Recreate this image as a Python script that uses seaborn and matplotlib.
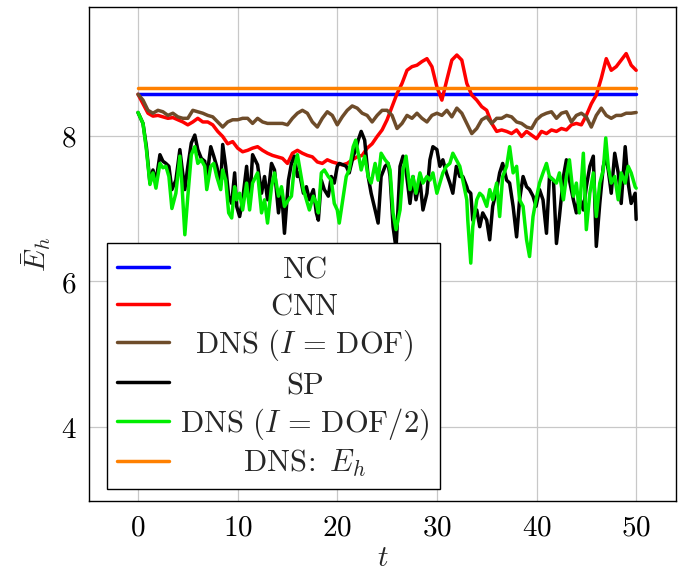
import numpy as np
import matplotlib
matplotlib.use("Agg")
import matplotlib.pyplot as plt
import seaborn as sns
from matplotlib.lines import Line2D

# ---------------- data ----------------
t_grid = np.arange(0, 50.5, 0.5)

e_cnn = [8.57, 8.44, 8.31, 8.27, 8.28, 8.26, 8.24, 8.25, 8.22, 8.19,
         8.15, 8.19, 8.24, 8.19, 8.19, 8.15, 8.06, 7.99, 7.89, 7.92,
         7.83, 7.78, 7.80, 7.83, 7.85, 7.80, 7.76, 7.73, 7.71, 7.69,
         7.62, 7.76, 7.80, 7.76, 7.73, 7.71, 7.64, 7.62, 7.67, 7.64,
         7.62, 7.60, 7.62, 7.67, 7.71, 7.73, 7.83, 7.89, 7.99, 8.08,
         8.22, 8.40, 8.58, 8.72, 8.90, 8.95, 8.97, 9.02, 9.06, 8.95,
         8.67, 8.49, 8.77, 9.04, 9.11, 9.04, 8.72, 8.56, 8.49, 8.40,
         8.35, 8.17, 8.06, 8.08, 8.06, 8.03, 8.08, 7.99, 8.06, 8.01,
         7.96, 8.06, 8.03, 8.08, 8.06, 8.10, 8.08, 8.15, 8.17, 8.15,
         8.28, 8.44, 8.56, 8.79, 9.06, 8.90, 8.95, 9.04, 9.13, 8.97,
         8.90]

e_dns_full = [8.57, 8.49, 8.35, 8.31, 8.35, 8.33, 8.28, 8.31, 8.26, 8.24,
              8.24, 8.35, 8.33, 8.31, 8.28, 8.26, 8.19, 8.12, 8.19, 8.22,
              8.22, 8.24, 8.24, 8.17, 8.24, 8.19, 8.17, 8.17, 8.17, 8.17,
              8.15, 8.24, 8.31, 8.35, 8.31, 8.19, 8.12, 8.24, 8.33, 8.28,
              8.15, 8.26, 8.35, 8.41, 8.38, 8.31, 8.28, 8.19, 8.28, 8.35,
              8.35, 8.28, 8.10, 8.17, 8.28, 8.24, 8.31, 8.24, 8.19, 8.28,
              8.31, 8.28, 8.35, 8.26, 8.38, 8.31, 8.17, 8.03, 8.10, 8.22,
              8.26, 8.17, 8.24, 8.24, 8.28, 8.26, 8.19, 8.17, 8.12, 8.10,
              8.22, 8.28, 8.31, 8.33, 8.24, 8.31, 8.33, 8.19, 8.28, 8.31,
              8.26, 8.12, 8.28, 8.38, 8.28, 8.24, 8.28, 8.28, 8.31, 8.31,
              8.32]

t_noisy = [0.0, 0.5, 0.84, 1.2, 1.5, 1.8, 2.2, 2.5, 2.8, 3.1,
           3.4, 3.8, 4.2, 4.4, 4.7, 5.0, 5.35, 5.7, 6.0, 6.35,
           6.7, 6.9, 7.3, 7.6, 7.9, 8.3, 8.5, 8.8, 9.1, 9.4,
           9.7, 9.9, 10.2, 10.5, 10.9, 11.2, 11.5, 12.0, 12.4, 12.7,
           13.0, 13.4, 13.7, 14.1, 14.4, 14.7, 15.1, 15.4, 15.7, 16.0,
           16.2, 16.6, 16.9, 17.2, 17.6, 17.9, 18.1, 18.4, 18.7, 19.1,
           19.4, 19.7, 20.0, 20.2, 20.6, 20.9, 21.2, 21.6, 21.85, 22.1,
           22.4, 22.75, 23.1, 23.4, 23.8, 24.1, 24.4, 24.8, 25.1, 25.3,
           25.6, 25.9, 26.3, 26.6, 26.9, 27.3, 27.6, 27.9, 28.3, 28.6,
           29.0, 29.3, 29.6, 30.0, 30.3, 30.6, 30.95, 31.3, 31.6, 31.95,
           32.3, 32.6, 33.0, 33.1, 33.4, 33.6, 34.0, 34.3, 34.6, 35.0,
           35.3, 35.6, 36.0, 36.3, 36.6, 37.0, 37.3, 37.65, 38.0, 38.3,
           38.65, 39.0, 39.3, 39.65, 39.95, 40.3, 40.65, 41.0, 41.3, 41.7,
           42.0, 42.3, 42.7, 43.0, 43.3, 43.7, 44.0, 44.3, 44.7, 45.0,
           45.35, 45.7, 46.0, 46.35, 46.7, 46.95, 47.2, 47.5, 47.85, 48.2,
           48.5, 48.9, 49.2, 49.5, 49.9, 50.0]

e_sp = [8.32, 8.17, 7.85, 7.35, 7.53, 7.37, 7.74, 7.65, 7.62, 7.58,
        7.26, 7.39, 7.81, 7.58, 7.26, 7.58, 7.90, 8.01, 7.81, 7.69,
        7.65, 7.42, 7.85, 7.72, 7.58, 7.33, 7.88, 7.58, 7.17, 7.07,
        7.49, 7.03, 6.89, 7.12, 7.58, 7.07, 7.74, 7.60, 7.21, 7.44,
        7.12, 7.62, 7.53, 6.94, 7.26, 6.66, 7.39, 7.62, 7.72, 7.44,
        7.49, 7.21, 7.30, 7.12, 7.26, 6.94, 6.84, 7.39, 7.26, 7.17,
        7.44, 7.35, 7.58, 7.62, 7.60, 7.58, 7.49, 7.72, 7.81, 7.94,
        8.06, 7.94, 7.44, 7.21, 6.98, 6.80, 7.44, 7.58, 7.62, 7.44,
        6.75, 6.45, 7.58, 7.72, 7.53, 7.07, 7.44, 7.12, 7.39, 6.98,
        7.21, 7.67, 7.85, 7.81, 7.58, 7.67, 7.49, 7.35, 7.21, 7.58,
        7.44, 7.44, 7.30, 7.25, 7.21, 6.84, 6.98, 6.75, 6.94, 6.84,
        6.57, 7.03, 7.26, 7.49, 7.62, 7.39, 7.35, 7.03, 6.61, 7.12,
        7.44, 7.30, 7.26, 7.17, 7.03, 7.26, 7.12, 6.66, 7.44, 7.39,
        6.52, 6.89, 7.44, 7.67, 7.39, 7.12, 6.94, 7.17, 6.98, 7.30,
        7.58, 7.72, 6.48, 7.07, 7.58, 7.72, 7.53, 7.21, 7.76, 7.49,
        7.07, 7.85, 7.35, 7.07, 7.21, 6.85]

e_dns_half = [8.32, 8.17, 7.81, 7.33, 7.49, 7.28, 7.62, 7.56, 7.58, 7.44,
              7.00, 7.21, 7.72, 7.35, 6.64, 7.17, 7.74, 7.85, 7.62, 7.67,
              7.58, 7.26, 7.58, 7.62, 7.44, 7.26, 7.53, 7.39, 6.94, 6.87,
              7.30, 7.12, 7.21, 6.98, 7.35, 6.98, 7.35, 7.49, 6.94, 7.12,
              6.80, 7.30, 7.49, 7.17, 7.30, 7.03, 7.12, 7.17, 7.58, 7.74,
              7.58, 7.26, 7.12, 6.98, 7.17, 7.07, 6.94, 7.49, 7.53, 7.44,
              7.39, 7.07, 6.98, 6.80, 7.17, 7.44, 7.53, 7.85, 7.94, 7.76,
              7.53, 7.72, 7.44, 7.35, 7.62, 7.39, 7.76, 7.67, 7.62, 7.53,
              6.94, 6.71, 6.98, 7.53, 7.72, 7.26, 7.44, 7.21, 7.49, 7.35,
              7.44, 7.39, 7.49, 7.21, 7.35, 7.49, 7.58, 7.62, 7.76, 7.67,
              7.58, 7.39, 7.12, 6.84, 6.25, 6.75, 7.12, 7.21, 7.17, 7.03,
              7.26, 7.12, 7.35, 6.89, 7.44, 7.58, 7.85, 7.49, 7.58, 7.12,
              7.03, 6.57, 6.34, 6.89, 7.12, 7.35, 7.49, 7.62, 7.44, 7.39,
              7.35, 7.49, 7.12, 7.44, 7.67, 7.17, 7.35, 6.94, 7.76, 6.71,
              7.21, 7.49, 6.89, 7.35, 7.53, 7.97, 7.58, 7.35, 7.44, 7.12,
              7.49, 7.35, 7.58, 7.49, 7.30, 7.28]

t_const = [0, 50]
e_nc = [8.57, 8.57]
e_dns_eh = [8.66, 8.66]

labels = [r"$\mathrm{NC}$", r"$\mathrm{CNN}$",
          r"$\mathrm{DNS}\ (I\,=\,\mathrm{DOF})$",
          r"$\mathrm{SP}$",
          r"$\mathrm{DNS}\ (I\,=\,\mathrm{DOF}/2)$",
          r"$\mathrm{DNS\!:}\ E_h$"]
xticks = [0, 10, 20, 30, 40, 50]
yticks = [4, 6, 8]

# ---------------- style ----------------
sns.set_theme(style="white")
plt.rcParams["mathtext.fontset"] = "cm"
plt.rcParams["font.family"] = ["DejaVu Serif"]

colors = ["#0000ff", "#ff0000", "#6e4c2a", "#000000", "#00ee00", "#ff8000"]
lw = 2.5
FS = 21
LFS = 22

fig = plt.figure(figsize=(6.78, 5.74), dpi=100)
ax = fig.add_axes([89 / 678, 73 / 574, 587 / 678, 494 / 574])

series = [(t_const, e_nc), (t_grid, e_cnn), (t_grid, e_dns_full),
          (t_noisy, e_sp), (t_noisy, e_dns_half), (t_const, e_dns_eh)]
for (xs, ys), c in zip(series, colors):
    sns.lineplot(x=list(xs), y=ys, ax=ax, color=c, linewidth=lw,
                 sort=False, estimator=None, legend=False)

ax.set_xlim(-4.92, 54.0)
ax.set_ylim(2.98, 9.77)
ax.set_xticks(xticks)
ax.set_xticklabels([f"${v}$" for v in xticks])
ax.set_yticks(yticks)
ax.set_yticklabels([f"${v}$" for v in yticks])
ax.grid(True, color="#c8c8c8", linewidth=0.9)
ax.set_axisbelow(True)
ax.tick_params(direction="in", length=4, width=0.8, colors="#000000",
               labelsize=FS, pad=9)
for s in ax.spines.values():
    s.set_color("black")
    s.set_linewidth(1.0)

ax.set_xlabel(r"$t$", fontsize=FS, labelpad=2)
ax.set_ylabel(r"$\bar{E}_h$", fontsize=FS, labelpad=6)

handles = [Line2D([], [], color=c, linewidth=lw) for c in colors]
leg = ax.legend(handles, labels, loc="upper left",
                bbox_to_anchor=(107 / 678, 1 - 243 / 574),
                bbox_transform=fig.transFigure, borderaxespad=0,
                fontsize=LFS, frameon=True, fancybox=False, edgecolor="black",
                framealpha=1, handlelength=1.7, handletextpad=0.35,
                borderpad=0.34, labelspacing=0.2)
leg.get_frame().set_linewidth(1.0)

# centre the entries within the label column (as in the reference)
fig.canvas.draw()
r = fig.canvas.get_renderer()
texts = leg.get_texts()
ws = [tx.get_window_extent(r).width for tx in texts]
mw = max(ws)
for tx, w in zip(texts, ws):
    tx.set_x((mw - w) / 2)

fig.savefig("out.png", dpi=100)
